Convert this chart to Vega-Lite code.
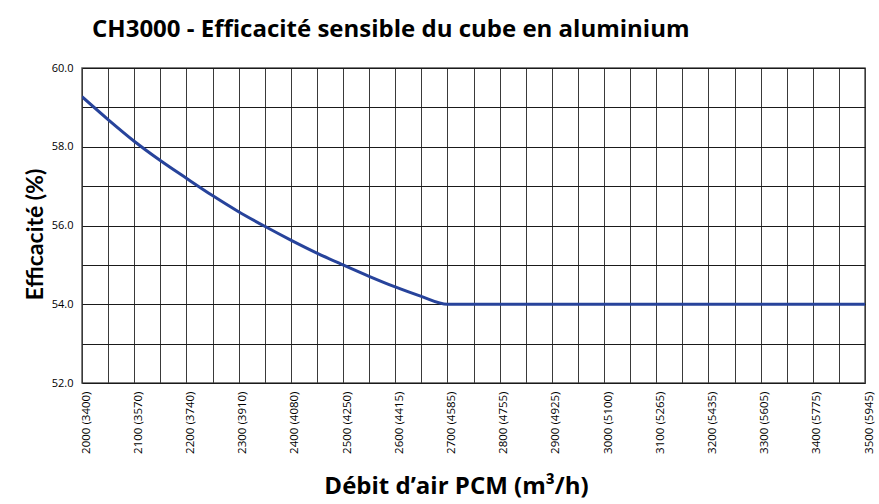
{
  "$schema": "https://vega.github.io/schema/vega-lite/v6.json",
  "autosize": {"type": "none"},
  "width": 783,
  "height": 315,
  "padding": {"left": 82, "top": 68, "right": 14, "bottom": 121},
  "background": "white",
  "title": {
    "text": "CH3000 - Efficacité sensible du cube en aluminium",
    "anchor": "start",
    "frame": "group",
    "dx": 10,
    "offset": 20,
    "font": "Open Sans",
    "fontSize": 24,
    "fontWeight": "bold",
    "color": "black"
  },
  "data": {
    "values": [
      {"debit": 2000, "eff": 59.27},
      {"debit": 2050, "eff": 58.69},
      {"debit": 2100, "eff": 58.14},
      {"debit": 2150, "eff": 57.65},
      {"debit": 2200, "eff": 57.2},
      {"debit": 2250, "eff": 56.76},
      {"debit": 2300, "eff": 56.35},
      {"debit": 2350, "eff": 55.98},
      {"debit": 2400, "eff": 55.63},
      {"debit": 2450, "eff": 55.3},
      {"debit": 2500, "eff": 55.0},
      {"debit": 2550, "eff": 54.71},
      {"debit": 2600, "eff": 54.44},
      {"debit": 2650, "eff": 54.2},
      {"debit": 2700, "eff": 54.0},
      {"debit": 3500, "eff": 54.0}
    ]
  },
  "mark": {"type": "line", "color": "#27439b", "strokeWidth": 3, "interpolate": "monotone", "clip": true},
  "encoding": {
    "x": {
      "field": "debit",
      "type": "quantitative",
      "scale": {"domain": [2000, 3500], "nice": false, "zero": false},
      "axis": {
        "values": [2000,2050,2100,2150,2200,2250,2300,2350,2400,2450,2500,2550,2600,2650,2700,2750,2800,2850,2900,2950,3000,3050,3100,3150,3200,3250,3300,3350,3400,3450,3500],
        "labelExpr": "datum.value % 100 == 0 ? datum.value + ' (' + ['3400','3570','3740','3910','4080','4250','4415','4585','4755','4925','5100','5265','5435','5605','5775','5945'][(datum.value - 2000) / 100] + ')' : ''",
        "labelAngle": -90,
        "labelFont": "Open Sans",
        "labelFontSize": 11.5,
        "labelColor": "black",
        "labelPadding": 8,
        "labelOffset": 4,
        "labelOverlap": false,
        "labelBound": false,
        "labelFlush": false,
        "ticks": false,
        "domain": false,
        "grid": true,
        "gridColor": "#3a3a3a",
        "gridWidth": 1,
        "gridOpacity": 1,
        "title": "Débit d’air PCM (m³/h)",
        "titleFont": "Open Sans",
        "titleFontSize": 24,
        "titleFontWeight": "bold",
        "titleColor": "black",
        "titleBaseline": "alphabetic",
        "titleX": 374,
        "titleY": 110
      }
    },
    "y": {
      "field": "eff",
      "type": "quantitative",
      "scale": {"domain": [52, 60], "nice": false, "zero": false},
      "axis": {
        "values": [52,53,54,55,56,57,58,59,60],
        "labelExpr": "datum.value % 2 == 0 ? format(datum.value, '.1f') : ''",
        "labelFont": "Open Sans",
        "labelFontSize": 11,
        "labelColor": "black",
        "labelPadding": 9,
        "ticks": false,
        "domain": false,
        "grid": true,
        "gridColor": "#1a1a1a",
        "gridWidth": 1,
        "gridOpacity": 1,
        "title": "Efficacité (%)",
        "titleFont": "Lato",
        "titleFontSize": 23,
        "titleFontWeight": "bold",
        "titleColor": "black",
        "titleBaseline": "alphabetic",
        "titleX": -40,
        "titleY": 166
      }
    }
  },
  "config": {
    "view": {"stroke": "#555555", "strokeWidth": 1.5}
  }
}
